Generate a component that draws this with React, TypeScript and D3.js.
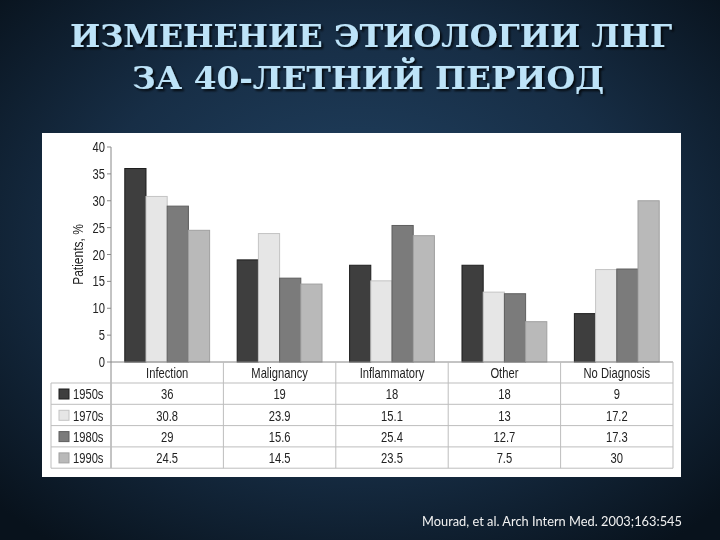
import React from 'react'
import * as d3 from 'd3'

const categories = ['Infection', 'Malignancy', 'Inflammatory', 'Other', 'No Diagnosis']
const decades = ['1950s', '1970s', '1980s', '1990s']
const v1950 = [36, 19, 18, 18, 9]
const v1970 = [30.8, 23.9, 15.1, 13, 17.2]
const v1980 = [29, 15.6, 25.4, 12.7, 17.3]
const v1990 = [24.5, 14.5, 23.5, 7.5, 30]
const series = [v1950, v1970, v1980, v1990]
const yTicks = [0, 5, 10, 15, 20, 25, 30, 35, 40]

const fills = ['#3e3e3e', '#e6e6e6', '#7b7b7b', '#b9b9b9']
const strokes = ['#1e1e1e', '#c4c4c4', '#5e5e5e', '#a0a0a0']

const chartFont = '"Liberation Sans", Arial, sans-serif'

// condensed text: the original uses a narrow grotesque
function Txt(props: {x: number, y: number, anchor?: string, size?: number, rotate?: number, children: any}) {
  const rot = props.rotate ? ` rotate(${props.rotate})` : ''
  return (
    <text transform={`translate(${props.x},${props.y})${rot} scale(0.8,1)`}
      textAnchor={props.anchor || 'start'} fontSize={props.size || 14}>
      {props.children}
    </text>
  )
}

function App() {
  const W = 720
  const H = 540
  const x = d3.scaleBand().domain(categories).range([111, 673])
  const inner = d3.scaleBand().domain(decades).range([0, x.bandwidth()]).paddingOuter(0.65)
  const y = d3.scaleLinear().domain([0, 40]).range([362, 147])

  const tableTop = 383
  const rowH = 21.3
  const tableLeft = 51
  const tableRight = 673
  const tableBottom = tableTop + rowH * decades.length

  return (
    <div style={{position: 'fixed', left: 0, top: 0}}>
      <svg width={W} height={H} style={{display: 'block'}}>
        <defs>
          <radialGradient id="bg" cx="50%" cy="45%" r="70%">
            <stop offset="0%" stopColor="#224465" />
            <stop offset="55%" stopColor="#172e46" />
            <stop offset="100%" stopColor="#08121c" />
          </radialGradient>
          <filter id="shadow" x="-5%" y="-20%" width="110%" height="150%">
            <feDropShadow dx="2" dy="2" stdDeviation="1.2" floodColor="#000" floodOpacity="0.8" />
          </filter>
        </defs>
        <rect width={W} height={H} fill="url(#bg)" />

        {/* title */}
        <g fontFamily='"DejaVu Serif", "Liberation Serif", serif' fontWeight="bold" fill="#bde3f8"
          filter="url(#shadow)" textAnchor="middle">
          <text x={371} y={47} fontSize={31} textLength={602} lengthAdjust="spacingAndGlyphs">
            ИЗМЕНЕНИЕ ЭТИОЛОГИИ ЛНГ
          </text>
          <text x={368} y={89} fontSize={31} textLength={472} lengthAdjust="spacingAndGlyphs">
            ЗА 40-ЛЕТНИЙ ПЕРИОД
          </text>
        </g>

        {/* white panel */}
        <rect x={42} y={133} width={639} height={344} fill="#ffffff" />

        <g fontFamily={chartFont} fill="#222">
          {/* y axis */}
          <line x1={111} x2={111} y1={y(40)} y2={tableBottom} stroke="#888" strokeWidth={1} />
          {yTicks.map(t => (
            <g key={t}>
              <line x1={107} x2={111} y1={y(t)} y2={y(t)} stroke="#888" />
              <Txt x={105} y={y(t) + 5} anchor="end">{t}</Txt>
            </g>
          ))}
          <Txt x={83} y={y(20)} anchor="middle" rotate={-90} size={15}>Patients, %</Txt>

          {/* bars */}
          {categories.map((c, ci) => (
            <g key={c} transform={`translate(${x(c)},0)`}>
              {series.map((s, si) => (
                <rect key={si} x={inner(decades[si])} y={y(s[ci])} width={inner.bandwidth()}
                  height={y(0) - y(s[ci])} fill={fills[si]} stroke={strokes[si]} strokeWidth={1} />
              ))}
            </g>
          ))}

          {/* table grid */}
          <line x1={111} x2={tableRight} y1={y(0)} y2={y(0)} stroke="#888" />
          {[0, 1, 2, 3, 4].map(i => (
            <line key={'h' + i} x1={tableLeft} x2={tableRight} y1={tableTop + rowH * i}
              y2={tableTop + rowH * i} stroke="#bdbdbd" />
          ))}
          <line x1={tableLeft} x2={tableLeft} y1={tableTop} y2={tableBottom} stroke="#bdbdbd" />
          {categories.map(c => (
            <line key={'v' + c} x1={(x(c) as number) + x.bandwidth()} x2={(x(c) as number) + x.bandwidth()}
              y1={y(0)} y2={tableBottom} stroke="#bdbdbd" />
          ))}

          {/* header row */}
          {categories.map(c => (
            <Txt key={'c' + c} x={(x(c) as number) + x.bandwidth() / 2} y={tableTop - 5} anchor="middle">{c}</Txt>
          ))}

          {/* data rows */}
          {decades.map((d, di) => (
            <g key={d}>
              <rect x={59} y={tableTop + rowH * di + 6} width={10} height={10}
                fill={fills[di]} stroke={strokes[di]} />
              <Txt x={73} y={tableTop + rowH * di + rowH - 5}>{d}</Txt>
              {categories.map((c, ci) => (
                <Txt key={c} x={(x(c) as number) + x.bandwidth() / 2} y={tableTop + rowH * di + rowH - 5}
                  anchor="middle">{series[di][ci]}</Txt>
              ))}
            </g>
          ))}
        </g>

        {/* citation */}
        <text x={422} y={526} fontFamily='Lato, "Open Sans", sans-serif' fontSize={14} fill="#f2f2f2"
          textLength={260} lengthAdjust="spacingAndGlyphs">
          Mourad, et al. Arch Intern Med. 2003;163:545
        </text>
      </svg>
    </div>
  )
}

export default App
